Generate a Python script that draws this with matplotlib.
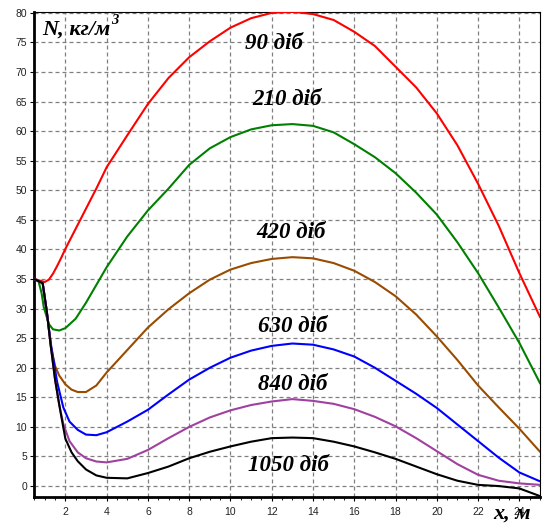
import matplotlib
matplotlib.use("Agg")
import matplotlib.pyplot as plt

# ---- data ----
x_red = [0.5, 0.8, 1.0, 1.2, 1.4, 1.6, 1.8, 2.0, 2.5, 3, 3.5, 4, 5, 6, 7, 8, 9, 10, 11, 12, 13,
         14, 15, 16, 17, 18, 19, 20, 21, 22, 23, 24, 25]
n_90 = [35, 34.7, 34.5, 34.9, 35.9, 37.2, 38.6, 40.1, 43.5, 46.9, 50.3, 53.9, 59.3, 64.6, 69.0,
        72.5, 75.2, 77.5, 79.1, 80.0, 80.2, 79.8, 78.8, 76.8, 74.4, 70.9, 67.4, 63.0, 57.6,
        51.1, 44.0, 36.0, 28.6]

x_green = [0.5, 0.7, 0.85, 0.95, 1.2, 1.4, 1.7, 2.0, 2.5, 3, 3.5, 4, 5, 6, 7, 8, 9, 10, 11, 12,
           13, 14, 15, 16, 17, 18, 19, 20, 21, 22, 23, 24, 25]
n_210 = [35, 34.6, 32.6, 30.3, 27.4, 26.5, 26.3, 26.7, 28.3, 31.0, 34.0, 37.0, 42.2, 46.6,
         50.3, 54.3, 57.1, 59.0, 60.3, 61.0, 61.2, 60.9, 59.8, 57.8, 55.6, 52.9, 49.6, 45.9,
         41.2, 36.0, 30.2, 24.2, 17.4]

x_brown = [0.5, 0.9, 1.1, 1.3, 1.5, 1.7, 2.0, 2.3, 2.6, 3.0, 3.5, 4, 5, 6, 7, 8, 9, 10, 11, 12,
           13, 14, 15, 16, 17, 18, 19, 20, 21, 22, 23, 24, 25]
n_420 = [35, 34.3, 29.5, 23.5, 20.3, 18.7, 17.2, 16.3, 15.9, 15.9, 17.0, 19.2, 23.0, 26.8,
         29.9, 32.6, 34.9, 36.6, 37.7, 38.4, 38.7, 38.5, 37.7, 36.4, 34.5, 32.1, 29.0, 25.3,
         21.3, 17.0, 13.3, 9.7, 5.8]

x_blue = [0.5, 0.9, 1.1, 1.3, 1.6, 1.9, 2.2, 2.6, 3.0, 3.5, 4, 5, 6, 7, 8, 9, 10, 11, 12, 13,
          14, 15, 16, 17, 18, 19, 20, 21, 22, 23, 24, 25]
n_630 = [35, 34.3, 29.5, 24.0, 17.6, 13.3, 10.9, 9.5, 8.7, 8.6, 9.1, 10.9, 12.9, 15.5, 18.0,
         20.0, 21.7, 22.9, 23.7, 24.1, 23.9, 23.1, 21.9, 20.0, 17.8, 15.6, 13.2, 10.4, 7.6,
         4.8, 2.3, 0.8]

x_mag = [0.5, 0.9, 1.1, 1.3, 1.5, 1.7, 1.9, 2.2, 2.6, 3.0, 3.5, 4, 5, 6, 7, 8, 9, 10, 11, 12,
         13, 14, 15, 16, 17, 18, 19, 20, 21, 22, 23, 24, 25]
n_840 = [35, 34.3, 29.5, 23.5, 18.0, 13.8, 10.5, 7.6, 5.7, 4.7, 4.15, 4.0, 4.6, 6.1, 8.1,
         10.0, 11.6, 12.8, 13.7, 14.3, 14.7, 14.4, 13.9, 13.0, 11.7, 10.1, 8.1, 5.9, 3.7,
         1.9, 0.9, 0.45, 0.2]

x_black = [0.5, 0.9, 1.1, 1.3, 1.5, 1.75, 2.0, 2.3, 2.6, 3.0, 3.5, 4, 5, 6, 7, 8, 9, 10, 11,
           12, 13, 14, 15, 16, 17, 18, 19, 20, 21, 22, 23, 24, 25]
n_1050 = [35, 34.3, 29.5, 23.5, 18.0, 12.8, 8.0, 5.7, 4.2, 2.8, 1.8, 1.4, 1.3, 2.2, 3.3, 4.7,
          5.8, 6.7, 7.5, 8.1, 8.2, 8.1, 7.5, 6.7, 5.7, 4.6, 3.3, 2.0, 0.9, 0.2, 0.0, -0.4,
          -1.7]

labels = ["90 діб", "210 діб", "420 діб", "630 діб", "840 діб", "1050 діб"]
label_x = [12.1, 12.75, 12.95, 13.0, 13.0, 12.8]
label_y = [74.9, 65.3, 42.8, 26.9, 17.1, 3.4]

x_ticks = [2, 4, 6, 8, 10, 12, 14, 16, 18, 20, 22, 24]
y_ticks = [0, 5, 10, 15, 20, 25, 30, 35, 40, 45, 50, 55, 60, 65, 70, 75, 80]

series = [(x_red, n_90, "#ff0000"), (x_green, n_210, "#008000"),
          (x_brown, n_420, "#994c00"), (x_blue, n_630, "#0000ff"),
          (x_mag, n_840, "#a040a0"), (x_black, n_1050, "#000000")]

fig = plt.figure(figsize=(5.43, 5.30), dpi=100)
ax = fig.add_axes([34 / 543, 1 - 497 / 530, (540 - 34) / 543, (497 - 12) / 530])

for xs, ys, c in series:
    ax.plot(xs, ys, color=c, lw=1.5, zorder=3)

ax.set_xlim(0.48, 25.0)
ax.set_ylim(-1.85, 80.15)
ax.set_xticks(x_ticks)
ax.set_yticks(y_ticks)
ax.set_xticks([v / 2 for v in range(1, 51)], minor=True)
ax.grid(True, which="major", color="#808080", lw=0.9, linestyle=(0, (3.2, 2.4)))
ax.tick_params(axis="both", which="major", direction="out", length=3, width=0.8,
               labelsize=7.5, labelcolor="#222222", pad=2)
ax.tick_params(axis="x", which="minor", direction="out", length=2, width=0.6)
ax.tick_params(axis="x", which="major", pad=4)

for s in ["left", "bottom"]:
    ax.spines[s].set_linewidth(2.0)
for s in ["top", "right"]:
    ax.spines[s].set_linewidth(0.8)

for t in ax.get_xticklabels() + ax.get_yticklabels():
    t.set_fontfamily("Liberation Sans")

tfont = dict(family="Liberation Serif", weight="bold", style="italic")
for lab, lx, ly in zip(labels, label_x, label_y):
    ax.text(lx, ly, lab, ha="center", va="center", fontsize=16.5, zorder=4, **tfont)

fig.text(42 / 543, 1 - 30 / 530, "N, кг/м", ha="left", va="center",
         fontsize=16, **tfont)
fig.text(111 / 543, 1 - 21 / 530, "3", ha="left", va="center",
         fontsize=10.5, **tfont)
fig.text(512 / 543, 1 - 514 / 530, "x, м", ha="center", va="center", fontsize=16, **tfont)

fig.savefig("out.png", dpi=100, facecolor="white")
